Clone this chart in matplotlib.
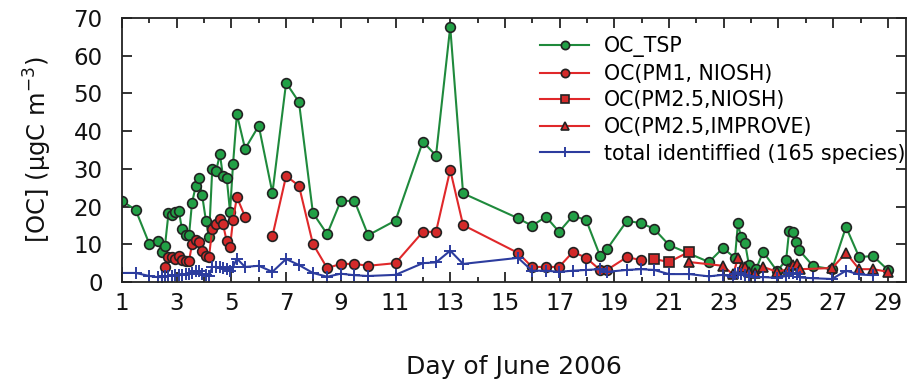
import numpy as np
import matplotlib
matplotlib.use("Agg")
import matplotlib.pyplot as plt
from matplotlib.ticker import MultipleLocator

# OC in TSP samples
tsp_day = [1.0, 1.5, 2.0, 2.3, 2.45, 2.57, 2.7, 2.83, 2.94, 3.08, 3.19, 3.34, 3.45,
           3.56, 3.7, 3.82, 3.93, 4.07, 4.18, 4.3, 4.44, 4.58, 4.69, 4.83, 4.95,
           5.06, 5.2, 5.5, 6.0, 6.5, 7.0, 7.47, 7.98, 8.5, 9.0, 9.5, 10.0, 11.0,
           12.0, 12.48, 13.0, 13.47, 15.48, 15.99, 16.5, 16.98, 17.49, 17.97,
           18.48, 18.73, 19.46, 19.98, 20.45, 21.0, 22.46, 22.97, 23.41, 23.52,
           23.63, 23.78, 23.92, 24.18, 24.44, 24.95, 25.28, 25.39, 25.53, 25.64,
           25.75, 26.27, 26.96, 27.47, 27.95, 28.46, 29.0]
tsp_oc = [21.5, 19.1, 10.1, 10.9, 7.9, 9.5, 18.2, 17.8, 18.5, 18.8, 14.1, 12.5, 12.4,
          21.0, 25.5, 27.5, 23.0, 16.2, 11.9, 29.9, 29.4, 33.9, 28.1, 27.5, 18.6,
          31.3, 44.5, 35.3, 41.4, 23.6, 52.8, 47.7, 18.3, 12.7, 21.5, 21.5, 12.4, 16.3,
          37.2, 33.5, 67.6, 23.5, 16.9, 14.9, 17.3, 13.3, 17.6, 16.4,
          6.9, 8.7, 16.2, 15.6, 14.1, 9.8, 5.3, 9.0, 6.4, 15.6,
          11.9, 10.3, 4.5, 3.4, 8.0, 2.9, 5.8, 13.5, 13.3, 10.6,
          8.5, 4.2, 3.4, 14.6, 6.6, 6.9, 3.2]

# OC in PM1 (NIOSH), gap on day 6
pm1_day = [2.57, 2.7, 2.83, 2.94, 3.08, 3.19, 3.34, 3.45, 3.56, 3.7, 3.82, 3.93,
           4.07, 4.18, 4.3, 4.44, 4.58, 4.69, 4.83, 4.95, 5.06, 5.2, 5.5, 6.0,
           6.5, 7.0, 7.47, 7.98, 8.5, 9.0, 9.5, 10.0, 11.0, 12.0, 12.48, 13.0,
           13.47, 15.48, 15.99, 16.5, 16.98, 17.49, 17.97, 18.48, 18.73, 19.46, 19.98]
pm1_oc = [4.0, 6.6, 6.6, 6.1, 6.9, 5.8, 5.6, 5.6, 10.0, 11.1, 10.5, 8.3,
          7.0, 6.6, 14.1, 15.3, 16.8, 15.4, 10.8, 9.4, 16.4, 22.5, 17.3, np.nan,
          12.2, 28.1, 25.5, 10.1, 3.7, 4.8, 4.8, 4.3, 5.0, 13.3, 13.3, 29.7,
          15.1, 7.7, 4.0, 4.0, 4.0, 8.0, 6.4, 3.2, 3.2, 6.6, 5.8]

# OC in PM2.5 (NIOSH)
pm25n_day = [20.45, 21.0, 21.73]
pm25n_oc = [6.1, 5.3, 8.0]

# OC in PM2.5 (IMPROVE)
pm25i_day = [21.73, 22.97, 23.34, 23.52, 23.67, 23.78, 23.92, 24.14, 24.44, 24.95,
             25.35, 25.53, 25.68, 25.79, 26.96, 27.47, 27.95, 28.46, 29.0]
pm25i_oc = [5.3, 4.3, 2.0, 6.3, 4.0, 4.0, 2.7, 2.3, 4.0, 2.7,
            3.4, 4.5, 4.8, 3.4, 3.7, 7.7, 3.4, 3.4, 2.7]

# sum of the 165 identified organic species
tot_day = [1.0, 1.5, 2.0, 2.3, 2.45, 2.57, 2.7, 2.83, 2.94, 3.08, 3.19, 3.34, 3.45,
           3.56, 3.7, 3.82, 3.93, 4.07, 4.18, 4.3, 4.44, 4.58, 4.69, 4.83, 4.95,
           5.06, 5.2, 5.5, 6.0, 6.5, 7.0, 7.47, 7.98, 8.5, 9.0, 9.5, 10.0, 11.0,
           12.0, 12.48, 13.0, 13.47, 15.48, 15.99, 16.5, 16.98, 17.49, 17.97,
           18.48, 18.73, 19.46, 19.98, 20.45, 21.0, 21.73, 22.46, 22.97, 23.34,
           23.41, 23.52, 23.63, 23.78, 23.92, 24.14, 24.44, 24.95, 25.28, 25.39,
           25.53, 25.68, 25.79, 26.27, 26.96, 27.47, 27.95, 28.46]
tot_oc = [2.4, 2.4, 1.6, 1.3, 1.3, 1.5, 1.6, 1.7, 1.8, 1.8, 1.9, 2.0, 2.1,
          2.4, 2.9, 2.8, 2.2, 1.8, 1.5, 4.0, 4.0, 3.9, 3.8, 3.4, 2.9,
          4.0, 6.2, 4.0, 4.3, 2.7, 6.1, 4.5, 2.4, 1.4, 2.2, 1.8, 1.6, 1.9,
          5.0, 5.2, 8.3, 4.8, 6.4, 3.0, 3.0, 2.7, 3.0, 3.2,
          3.4, 2.7, 3.2, 3.4, 3.2, 2.1, 2.1, 1.5, 1.9, 1.3,
          2.2, 2.5, 2.0, 1.8, 1.5, 1.3, 1.3, 1.1, 1.6, 2.3,
          2.4, 2.0, 1.2, 1.0, 0.8, 3.0, 2.0, 1.8]

day_ticks = list(range(1, 30, 2))

plt.rcParams['font.family'] = 'DejaVu Sans'

fig = plt.figure(figsize=(9.07, 3.85), dpi=100)
ax = fig.add_axes([0.1345, 0.2675, 0.864, 0.686])

green_line, green_fill = '#1f8a3c', '#22a046'
red_line, red_fill = '#e0282a', '#d42a2a'
blue = '#2c3c9e'

mk = dict(markersize=7, markeredgecolor='#222222', markeredgewidth=1.2)

ax.plot(tsp_day, tsp_oc, '-o', color=green_line, markerfacecolor=green_fill,
        lw=1.5, label='OC_TSP', **mk)
ax.plot(pm1_day, pm1_oc, '-o', color=red_line, markerfacecolor=red_fill,
        lw=1.5, label='OC(PM1, NIOSH)', **mk)
ax.plot(pm25n_day, pm25n_oc, '-s', color=red_line, markerfacecolor=red_fill,
        lw=1.5, label='OC(PM2.5,NIOSH)', **mk)
ax.plot(pm25i_day, pm25i_oc, '-^', color=red_line, markerfacecolor=red_fill,
        lw=1.5, label='OC(PM2.5,IMPROVE)', **mk)
ax.plot(tot_day, tot_oc, '-+', color=blue, lw=1.5, markersize=8,
        markeredgewidth=1.4, label='total identiffied (165 species)')

ax.set_xlim(1, 29.65)
ax.set_ylim(0, 70)
ax.set_xticks(day_ticks)
ax.xaxis.set_minor_locator(MultipleLocator(1))
ax.yaxis.set_major_locator(MultipleLocator(10))
ax.tick_params(axis='both', which='both', direction='in', top=True, right=True,
               labelsize=16.5, width=1.2, colors='#111111')
ax.tick_params(which='major', length=7)
ax.tick_params(which='minor', length=3.6)
ax.tick_params(axis='x', pad=7)
ax.tick_params(axis='y', pad=14)
for s in ax.spines.values():
    s.set_linewidth(1.3)
    s.set_color('#222222')

ax.set_xlabel('Day of June 2006', fontsize=18, labelpad=29, color='#111111')
ax.set_ylabel('[OC] (μgC m$^{-3}$)', fontsize=17.5, labelpad=14, color='#111111')

leg = ax.legend(loc='upper right', frameon=False, fontsize=14.8, handlelength=2.4,
                labelspacing=0.32, borderaxespad=0.3, handletextpad=0.7,
                markerscale=0.85, bbox_to_anchor=(1.018, 0.985))

fig.savefig('out.png', dpi=100)
